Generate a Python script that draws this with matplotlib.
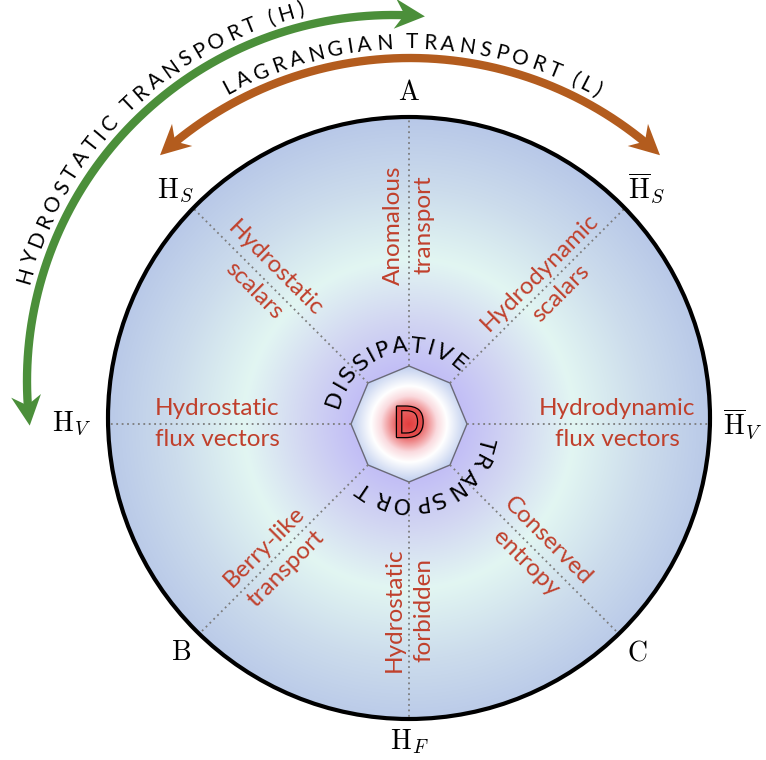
import numpy as np
import matplotlib.pyplot as plt
from matplotlib.patches import Circle, Polygon
from matplotlib.textpath import TextToPath
from matplotlib.font_manager import FontProperties
import matplotlib.patheffects as pe

plt.rcParams['mathtext.fontset'] = 'cm'

# spokes and the labels at their outer ends
spoke_angles = [90, 45, 0, -45, -90, -135, 180, 135]
spoke_labels = [r'$\mathrm{A}$', r'$\overline{\mathrm{H}}_S$', r'$\overline{\mathrm{H}}_V$',
                r'$\mathrm{C}$', r'$\mathrm{H}_F$', r'$\mathrm{B}$',
                r'$\mathrm{H}_V$', r'$\mathrm{H}_S$']
label_radius = [332, 335, 334, 323, 318, 322, 337, 330]

# text written along each spoke
sector_texts = ['Anomalous\ntransport', 'Hydrodynamic\nscalars', 'Hydrodynamic\nflux vectors',
                'Conserved\nentropy', 'Hydrostatic\nforbidden', 'Berry-like\ntransport',
                'Hydrostatic\nflux vectors', 'Hydrostatic\nscalars']
sector_radius = [199, 200, 208, 181, 186, 189, 192, 204]
sector_rot = [90, 45, 0, -45, 90, 45, 0, -45]

# curved texts
inner_top = 'DISSIPATIVE'
inner_bottom = 'TRANSPORT'
arc_h_text = 'HYDROSTATIC TRANSPORT (H)'
arc_l_text = 'LAGRANGIAN TRANSPORT (L)'
centre_letter = 'D'

W, H = 766, 760
cx, cy = 409, 424          # centre of the spokes
ox, oy, R = 409, 418, 301  # outer circle
oct_r = 58

red = '#c0402c'
green = '#4b8f3a'
orange = '#b35c1e'


def pt(x0, y0, r, th):
    return x0 + r * np.cos(np.radians(th)), y0 - r * np.sin(np.radians(th))


def radial(d, stops, cols):
    cols = np.array(cols) / 255.0
    return np.dstack([np.interp(d, stops, cols[:, i]) for i in range(3)])


def arc_text(ax, s, x0, y0, r, th0, th1, size, family, color='black', track=0.2):
    prop = FontProperties(family=family, size=size)
    t2p = TextToPath()
    w = []
    for ch in s:
        if ch == ' ':
            ww = (t2p.get_text_width_height_descent('a a', prop, ismath=False)[0]
                  - t2p.get_text_width_height_descent('aa', prop, ismath=False)[0])
        else:
            ww = t2p.get_text_width_height_descent(ch, prop, ismath=False)[0]
        w.append(ww + track * size)
    w = np.array(w)
    edges = np.concatenate([[0], np.cumsum(w)])
    mids = (edges[:-1] + edges[1:]) / 2
    frac = (mids - mids[0]) / (mids[-1] - mids[0])
    rb = r - 0.36 * size * 100 / 72
    for ch, t in zip(s, th0 + (th1 - th0) * frac):
        x, y = pt(x0, y0, rb, t)
        ax.text(x, y, ch, rotation=t - 90, rotation_mode='anchor', ha='center',
                va='baseline', fontsize=size, family=family, color=color)


def arc_arrow(ax, x0, y0, r, th0, th1, color, L=30, hw=15, lw=6):
    # double headed arrow along a circle, going clockwise from th0 to th1
    back = np.degrees(0.65 * L / r)
    th = np.linspace(th0 - back, th1 + back, 300)
    xs, ys = pt(x0, y0, r, th)
    ax.plot(xs, ys, color=color, lw=lw, solid_capstyle='butt', zorder=4)
    for t, sgn in ((th0, -1), (th1, 1)):
        px, py = pt(x0, y0, r, t)
        a = np.radians(t)
        dx, dy = sgn * np.sin(a), sgn * np.cos(a)   # screen coords, y down
        nx, ny = -dy, dx
        head = [(px, py),
                (px - L * dx + hw * nx, py - L * dy + hw * ny),
                (px - 0.68 * L * dx, py - 0.68 * L * dy),
                (px - L * dx - hw * nx, py - L * dy - hw * ny)]
        ax.add_patch(Polygon(head, closed=True, color=color, lw=0, zorder=5))


fig = plt.figure(figsize=(W / 100, H / 100), dpi=100)
ax = fig.add_axes([0, 0, 1, 1])
ax.set_xlim(0, W)
ax.set_ylim(H, 0)
ax.axis('off')

yy, xx = np.mgrid[0:H, 0:W] + 0.5
d = np.hypot(xx - cx, yy - cy)

outer = radial(d, [55, 105, 165, 235, 305],
               [(194, 190, 246), (210, 214, 242), (226, 246, 242), (204, 220, 236), (184, 200, 232)])
im = ax.imshow(outer, extent=(0, W, H, 0), origin='upper', zorder=1, interpolation='bilinear')
disc = Circle((ox, oy), R, transform=ax.transData)
im.set_clip_path(disc)

oct_pts = [pt(cx, cy, oct_r, a) for a in spoke_angles]
inner = radial(d, [0, 12, 28, 38, 60],
               [(226, 62, 62), (232, 92, 92), (250, 218, 222), (255, 255, 255), (184, 200, 236)])
im2 = ax.imshow(inner, extent=(0, W, H, 0), origin='upper', zorder=2, interpolation='bilinear')
octagon = Polygon(oct_pts, closed=True, transform=ax.transData)
im2.set_clip_path(octagon)
ax.add_patch(Polygon(oct_pts, closed=True, fill=False, ec='#6a6a78', lw=1, zorder=3))

ax.add_patch(Circle((ox, oy), R, fill=False, ec='black', lw=3, zorder=4))

# dotted spokes from the octagon to the circle
for a, (sx, sy) in zip(spoke_angles, oct_pts):
    ux, uy = np.cos(np.radians(a)), -np.sin(np.radians(a))
    b = ux * (cx - ox) + uy * (cy - oy)
    c = (cx - ox) ** 2 + (cy - oy) ** 2 - R ** 2
    s = -b + np.sqrt(b * b - c)
    ax.plot([sx, cx + s * ux], [sy, cy + s * uy], color='#7c7c7c', lw=1.3,
            ls=(0, (1, 2)), zorder=3)

for a, lab, r in zip(spoke_angles, spoke_labels, label_radius):
    x, y = pt(cx, cy, r, a)
    ax.text(x, y, lab, fontsize=20, ha='center', va='center', zorder=6)

for a, txt, r, rot in zip(spoke_angles, sector_texts, sector_radius, sector_rot):
    x, y = pt(cx, cy, r, a)
    ax.text(x, y, txt, fontsize=17.5, family='Lato', color=red,
            ha='center', va='center', multialignment='center', rotation=rot,
            rotation_mode='anchor', linespacing=1.55, zorder=6)

ax.text(cx, cy + 1, centre_letter, fontsize=30, family='DejaVu Sans', color='#e24a4a',
        ha='center', va='center', zorder=6,
        path_effects=[pe.withStroke(linewidth=1.8, foreground='black')])

arc_text(ax, inner_top, cx, cy, 80, 161, 51, 16, 'DejaVu Sans', track=0.0)
arc_text(ax, inner_bottom, cx, cy, 81, -15, -124, 16, 'DejaVu Sans', track=0.0)

arc_arrow(ax, 393, 381, 366, 187, 85, green)
arc_arrow(ax, 410, 428, 370, 132.5, 47.5, orange)
arc_text(ax, arc_h_text, 393, 381, 384, 164, 104, 15, 'Lato', track=0.14)
arc_text(ax, arc_l_text, 410, 428, 387, 118, 61, 15, 'Lato', track=0.14)

fig.savefig('out.png', dpi=100)
